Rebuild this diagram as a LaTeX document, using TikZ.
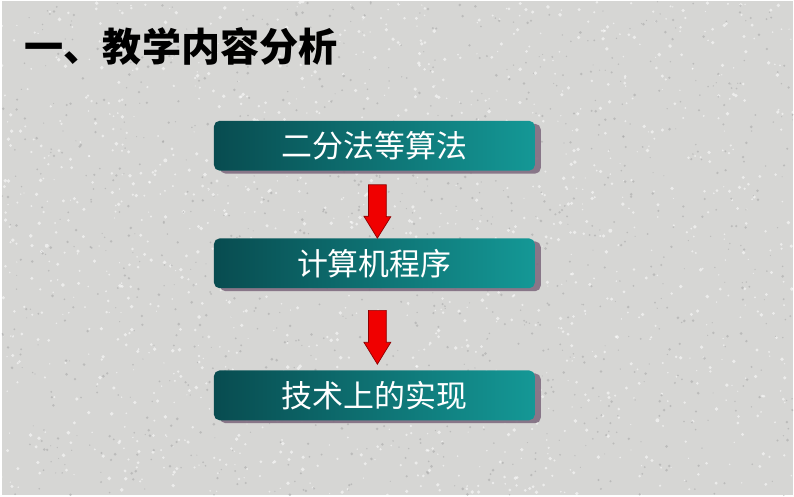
\documentclass[tikz,border=0pt]{standalone}
\usepackage{fontspec}
\newfontfamily\cjk{Noto Sans CJK SC}
\usetikzlibrary{shadows,calc}
\definecolor{paper}{RGB}{214,214,212}
\definecolor{tealdark}{RGB}{8,76,80}
\definecolor{teallight}{RGB}{20,152,150}
\definecolor{arrowred}{RGB}{240,0,0}
\definecolor{arrowedge}{RGB}{140,0,0}
\tikzset{
    every node/.style={font=\cjk},
    stepbox/.style={rectangle, rounded corners=0.17cm, minimum width=9.66cm, minimum height=1.5cm,
        left color=tealdark, right color=teallight, text=white,
        font=\cjk\fontsize{26.5}{30}\selectfont,
        drop shadow={shadow xshift=0.18cm, shadow yshift=-0.09cm, fill=gray!85!violet, opacity=0.9}},
    redarrow/.style={fill=arrowred, draw=arrowedge, line width=0.6pt, line join=miter},
    speck/.style={fill=#1, opacity=0.55}
}
\begin{document}
\begin{tikzpicture}[x=0.03cm, y=-0.03cm]
    \fill[paper] (0,0) rectangle (794,496);
    % paper texture
    \pgfmathsetseed{7}
    \foreach \i in {1,...,1400}{
        \pgfmathsetmacro{\px}{rnd*794}
        \pgfmathsetmacro{\py}{rnd*496}
        \pgfmathsetmacro{\pr}{0.6+rnd*1.4}
        \fill[speck=white] (\px,\py) circle (\pr);
    }
    \foreach \i in {1,...,1100}{
        \pgfmathsetmacro{\px}{rnd*794}
        \pgfmathsetmacro{\py}{rnd*496}
        \pgfmathsetmacro{\pr}{0.5+rnd*1.0}
        \fill[speck=gray!70] (\px,\py) circle (\pr);
    }
    \node[anchor=west, font=\cjk\bfseries\fontsize{33.5}{36}\selectfont] (title) at (19,45) {一、教学内容分析};

    \node[stepbox] (alg) at (374,145) {二分法等算法};
    \node[stepbox] (prog) at (374,263) {计算机程序};
    \node[stepbox] (impl) at (374,395.5) {技术上的实现};

    % block arrows between the steps
    \draw[redarrow] ($(alg.south)+(-6,14)$) -- ++(18,0) -- ++(0,32) -- ++(4.5,0)
        -- ($(prog.north)+(3,0)$) -- ++(-13.5,-22) -- ++(4.5,0) -- cycle;
    \draw[redarrow] ($(prog.south)+(-6,22)$) -- ++(18,0) -- ++(0,32) -- ++(4.5,0)
        -- ($(impl.north)+(3,-6)$) -- ++(-13.5,-22) -- ++(4.5,0) -- cycle;
\end{tikzpicture}
\end{document}
